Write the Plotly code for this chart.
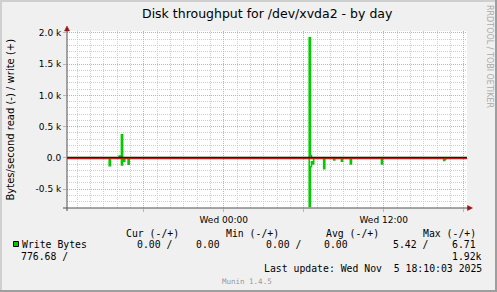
import pandas as pd
import plotly.graph_objects as go

# ---------------- data ----------------
start_time = "2025-11-04 12:15"
end_time = "2025-11-05 18:15"

write_times = ["2025-11-04 16:10", "2025-11-04 16:20", "2025-11-05 06:25", "2025-11-05 06:30"]
write_vals = [30, 370, 1920, 37]

read_times = ["2025-11-04 15:25", "2025-11-04 16:20", "2025-11-04 16:30", "2025-11-04 16:50",
              "2025-11-05 06:25", "2025-11-05 06:30", "2025-11-05 06:35", "2025-11-05 06:40",
              "2025-11-05 07:30", "2025-11-05 08:15", "2025-11-05 08:50", "2025-11-05 09:30",
              "2025-11-05 11:50", "2025-11-05 16:30", "2025-11-05 16:35"]
read_vals = [123, 110, 50, 100,
             776.68, 140, 60, 95,
             170, 30, 50, 95,
             95, 40, 15]

y_tick_vals = [-500, 0, 500, 1000, 1500, 2000]
y_tick_text = ["-0.5 k", "0.0", "0.5 k", "1.0 k", "1.5 k", "2.0 k"]
x_tick_vals = ["2025-11-04 18:00", "2025-11-05 00:00", "2025-11-05 06:00", "2025-11-05 12:00", "2025-11-05 18:00"]
x_tick_text = ["", "Wed 00:00", "", "Wed 12:00", ""]

title_text = "Disk throughput for /dev/xvda2 - by day"
ylabel_text = "Bytes/second read (-) / write (+)"

# ---------------- series on 5-minute grid ----------------
idx = pd.date_range(start_time, end_time, freq="5min")
write_s = pd.Series(0.0, index=idx)
read_s = pd.Series(0.0, index=idx)
for t, v in zip(write_times, write_vals):
    write_s[pd.Timestamp(t)] = v
for t, v in zip(read_times, read_vals):
    read_s[pd.Timestamp(t)] = v

GREEN = "#00CC00"
MGRID = "#E9A0A0"
GRID = "#CFCFCF"
AXIS = "#505050"
ARROW = "#A01010"

W, H = 497, 292
PL, PR, PT, PB = 67, 467, 31, 208


def xp(px):
    return (px - PL) / (PR - PL)


def yp(py):
    return (PB - py) / (PB - PT)


fig = go.Figure()
fig.add_trace(go.Scatter(x=idx, y=-read_s.values, mode="lines", line=dict(color=GREEN, width=1.6, shape="hv", simplify=False),
                         hoverinfo="skip", showlegend=False))
fig.add_trace(go.Scatter(x=idx, y=write_s.values, mode="lines", line=dict(color=GREEN, width=1.6, shape="hv", simplify=False),
                         hoverinfo="skip", showlegend=False))

units_per_px = (2030 + 800) / (PB - PT)

shapes = []
# zero rules
shapes.append(dict(type="line", xref="paper", yref="y", x0=0, x1=1, y0=-0.6 * units_per_px, y1=-0.6 * units_per_px,
                   line=dict(color="#FF0000", width=1.6), layer="above"))
shapes.append(dict(type="line", xref="paper", yref="y", x0=0, x1=1, y0=0.7 * units_per_px, y1=0.7 * units_per_px,
                   line=dict(color="#000000", width=1), layer="above"))
# axes
shapes.append(dict(type="line", xref="paper", yref="paper", x0=xp(67), x1=xp(67), y0=yp(211), y1=yp(29),
                   line=dict(color=AXIS, width=1), layer="above"))
shapes.append(dict(type="line", xref="paper", yref="paper", x0=xp(63), x1=xp(469), y0=yp(208), y1=yp(208),
                   line=dict(color=AXIS, width=1), layer="above"))
# arrows
shapes.append(dict(type="path", xref="paper", yref="paper",
                   path=f"M {xp(64.5)} {yp(31)} L {xp(69.5)} {yp(31)} L {xp(67)} {yp(26)} Z",
                   fillcolor=ARROW, line=dict(color=ARROW, width=0.5), layer="above"))
shapes.append(dict(type="path", xref="paper", yref="paper",
                   path=f"M {xp(467.5)} {yp(205.5)} L {xp(467.5)} {yp(210.5)} L {xp(472.5)} {yp(208)} Z",
                   fillcolor=ARROW, line=dict(color=ARROW, width=0.5), layer="above"))
# frame (shade)
shapes.append(dict(type="rect", xref="paper", yref="paper", x0=xp(0), x1=xp(W), y0=yp(H), y1=yp(H - 2),
                   fillcolor="#9E9E9E", line=dict(width=0)))
shapes.append(dict(type="rect", xref="paper", yref="paper", x0=xp(W - 2), x1=xp(W), y0=yp(H), y1=yp(0),
                   fillcolor="#9E9E9E", line=dict(width=0)))
shapes.append(dict(type="rect", xref="paper", yref="paper", x0=xp(0), x1=xp(W - 2), y0=yp(2), y1=yp(0),
                   fillcolor="#CFCFCF", line=dict(width=0)))
shapes.append(dict(type="rect", xref="paper", yref="paper", x0=xp(0), x1=xp(2), y0=yp(H - 2), y1=yp(0),
                   fillcolor="#CFCFCF", line=dict(width=0)))
# legend swatch
shapes.append(dict(type="rect", xref="paper", yref="paper", x0=xp(13.5), x1=xp(18.5), y0=yp(246.5), y1=yp(241.5),
                   fillcolor=GREEN, line=dict(color="#000000", width=1)))

SANS = "DejaVu Sans"
MONO = "DejaVu Sans Mono"
annotations = []


def txt(s, px, py, size, family=MONO, anchor="left", color="#000000", angle=0):
    annotations.append(dict(text=s.replace(" ", "\u00a0"), x=xp(px), y=yp(py), xref="paper", yref="paper",
                            xanchor=anchor, yanchor="middle", showarrow=False, borderpad=0, borderwidth=0,
                            textangle=angle, font=dict(family=family, size=size, color=color)))


txt(title_text, 267.4, 13.5, 12.5, SANS, "center")
txt(ylabel_text, 10, 119.5, 10, SANS, "center", angle=-90)
txt("RRDTOOL / TOBI OETIKER", 489.5, 56.5, 8, SANS, "center", color="#ABABAB", angle=90)

LF = 9.8
txt("Cur (-/+)", 126, 233.3, LF)
txt("Min (-/+)", 226, 233.3, LF)
txt("Avg (-/+)", 326, 233.3, LF)
txt("Max (-/+)", 423, 233.3, LF)
txt("Write Bytes", 21.5, 244.7, LF)
txt("0.00 /", 137, 244.7, LF)
txt("0.00", 196, 244.7, LF)
txt("0.00 /", 266, 244.7, LF)
txt("0.00", 324, 244.7, LF)
txt("5.42 /", 393, 244.7, LF)
txt("6.71", 452, 244.7, LF)
txt("776.68 /", 21, 256, LF)
txt("1.92k", 482.3, 256, LF, anchor="right")
txt("Last update: Wed Nov  5 18:10:03 2025", 482.3, 268.3, LF, anchor="right")
txt("Munin 1.4.5", 246.5, 281.3, 7.5, MONO, "center", color="#999999")

fig.update_layout(
    width=W, height=H,
    margin=dict(l=PL, r=W - PR, t=PT, b=H - PB, pad=0),
    paper_bgcolor="#F0F0F0", plot_bgcolor="#FFFFFF",
    showlegend=False,
    shapes=shapes, annotations=annotations,
    font=dict(family=SANS, size=9, color="#000000"),
)
fig.update_xaxes(
    type="date", range=[start_time, end_time],
    tickmode="array", tickvals=x_tick_vals, ticktext=x_tick_text,
    showgrid=True, gridcolor=MGRID, griddash="1px,1px", gridwidth=1,
    ticks="outside", ticklen=3, tickcolor=MGRID,
    tickfont=dict(family=SANS, size=9),
    minor=dict(dtick=3600000, tick0="2025-11-04 00:00", showgrid=True, gridcolor=GRID, griddash="1px,1px", gridwidth=1,
               ticks=""),
    showline=False, zeroline=False, fixedrange=True,
)
fig.update_yaxes(
    range=[-800, 2030],
    tickmode="array", tickvals=y_tick_vals, ticktext=y_tick_text,
    showgrid=True, gridcolor=MGRID, griddash="1px,1px", gridwidth=1,
    ticks="outside", ticklen=3, tickcolor=MGRID,
    tickfont=dict(family=SANS, size=9),
    minor=dict(dtick=100, tick0=0, showgrid=True, gridcolor=GRID, griddash="1px,1px", gridwidth=1, ticks=""),
    showline=False, zeroline=False, fixedrange=True,
)

fig.write_html("out.html", config={"displayModeBar": False})
